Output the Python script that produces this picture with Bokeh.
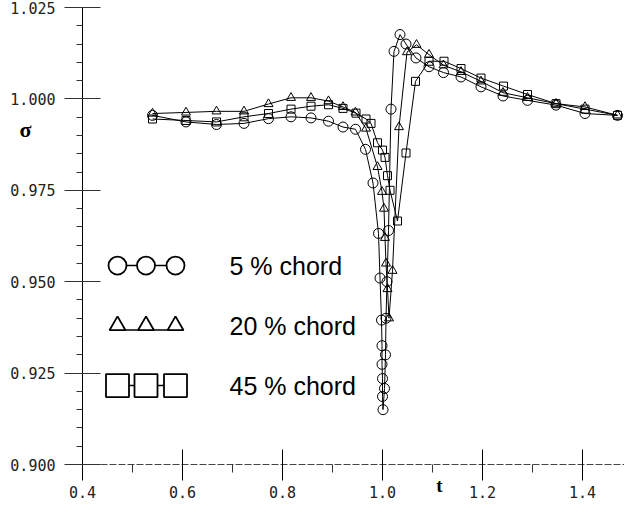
from bokeh.plotting import figure
from bokeh.models import Range1d, FixedTicker, PrintfTickFormatter, Label
from bokeh.embed import file_html
from bokeh.resources import INLINE

# ---- data ----
t_5 = [0.540, 0.607, 0.668, 0.723, 0.772, 0.817, 0.857, 0.892, 0.921, 0.946,
       0.966, 0.981, 0.992, 0.995, 0.998, 0.999, 0.999, 1.000, 1.000, 1.001,
       1.004, 1.006, 1.007, 1.009, 1.012, 1.017, 1.023, 1.035, 1.047, 1.067,
       1.093, 1.122, 1.157, 1.197, 1.241, 1.290, 1.347, 1.405, 1.470]
s_5 = [0.9955, 0.9937, 0.9930, 0.9933, 0.9946, 0.9951, 0.9948, 0.9939, 0.9923, 0.9917,
       0.9862, 0.9770, 0.9632, 0.9510, 0.9395, 0.9325, 0.9274, 0.9235, 0.9186, 0.9150,
       0.9208, 0.9300, 0.9400, 0.9500, 0.9640, 0.9972, 1.0130, 1.0176, 1.0150, 1.0112,
       1.0088, 1.0072, 1.0060, 1.0033, 1.0008, 0.9996, 0.9983, 0.9960, 0.9955]

t_20 = [0.540, 0.607, 0.668, 0.723, 0.772, 0.817, 0.857, 0.892, 0.921, 0.946,
        0.967, 0.990, 0.999, 1.003, 1.005, 1.007, 1.010, 1.013, 1.020, 1.033,
        1.049, 1.068, 1.093, 1.122, 1.157, 1.197, 1.241, 1.290, 1.347, 1.405, 1.470]
s_20 = [0.9960, 0.9963, 0.9966, 0.9966, 0.9986, 1.0003, 1.0003, 0.9994, 0.9978, 0.9963,
        0.9919, 0.9814, 0.9746, 0.9700, 0.9620, 0.9550, 0.9480, 0.9400, 0.9530, 0.9923,
        1.0128, 1.0148, 1.0121, 1.0092, 1.0074, 1.0048, 1.0017, 1.0003, 0.9987, 0.9978, 0.9955]

t_45 = [0.540, 0.607, 0.668, 0.723, 0.772, 0.817, 0.857, 0.892, 0.921, 0.947,
        0.967, 0.977, 0.990, 1.000, 1.005, 1.010, 1.015, 1.030, 1.047, 1.066,
        1.093, 1.123, 1.157, 1.197, 1.242, 1.290, 1.347, 1.405, 1.470]
s_45 = [0.9945, 0.9941, 0.9937, 0.9951, 0.9960, 0.9972, 0.9980, 0.9984, 0.9974, 0.9961,
        0.9945, 0.9933, 0.9880, 0.9860, 0.9840, 0.9790, 0.9750, 0.9666, 0.9852, 1.0048,
        1.0103, 1.0103, 1.0083, 1.0057, 1.0035, 1.0012, 0.9987, 0.9972, 0.9955]

series_labels = ["5 % chord", "20 % chord", "45 % chord"]
x_ticks = [0.4, 0.6, 0.8, 1.0, 1.2, 1.4]
x_minor = [0.5, 0.7, 0.9, 1.1, 1.3]
y_ticks = [0.900, 0.925, 0.950, 0.975, 1.000, 1.025]
y_minor = [round(0.900 + 0.005 * i, 3) for i in range(26)]

# ---- layout: frame fills the canvas, axes drawn at fixed data locations ----
W, H = 624, 500
X0, Y0 = 0.4, 0.900          # where the axes cross
X1, Y1 = 1.484, 1.025        # right end of x axis, top of y axis
left_px, top_px = 82, 7      # canvas position of the axis corner / axis top
px_per_x = 500.0
px_per_y = 3656.0
x_range = Range1d(X0 - left_px / px_per_x, X0 + (W - left_px) / px_per_x)
y_range = Range1d(Y1 - (H - top_px) / px_per_y, Y1 + top_px / px_per_y)

p = figure(width=W, height=H, output_backend="svg", toolbar_location=None,
           x_range=x_range, y_range=y_range,
           min_border_left=0, min_border_right=0, min_border_top=0, min_border_bottom=0)
p.outline_line_color = None
p.xgrid.visible = False
p.ygrid.visible = False
p.background_fill_color = "white"
p.border_fill_color = "white"

tick_font = "DejaVu Sans Mono"

xa = p.xaxis[0]
xa.fixed_location = Y0
xa.bounds = (X0, X1)
xa.ticker = FixedTicker(ticks=x_ticks, minor_ticks=x_minor)
xa.formatter = PrintfTickFormatter(format="%.1f")
xa.major_tick_in = 15
xa.major_tick_out = 16
xa.minor_tick_in = 0
xa.minor_tick_out = 8
xa.major_label_standoff = 5
xa.major_label_text_font = tick_font
xa.major_label_text_font_size = "15px"
xa.major_label_text_color = "#222222"
xa.axis_line_color = "#444444"
xa.axis_line_dash = "7 2"
xa.major_tick_line_color = "black"
xa.minor_tick_line_color = "#333333"

ya = p.yaxis[0]
ya.fixed_location = X0
ya.bounds = (Y0, Y1)
ya.ticker = FixedTicker(ticks=y_ticks, minor_ticks=y_minor)
ya.formatter = PrintfTickFormatter(format="%.3f")
ya.major_tick_in = 18
ya.major_tick_out = 18
ya.minor_tick_in = 0
ya.minor_tick_out = 6
ya.major_label_standoff = 9
ya.major_label_text_font = tick_font
ya.major_label_text_font_size = "15px"
ya.major_label_text_color = "#222222"
ya.axis_line_color = "black"
ya.major_tick_line_color = "#333333"
ya.minor_tick_line_color = "#333333"

# ---- series ----
p.line(t_5, s_5, line_color="black", line_width=1)
p.scatter(t_5, s_5, marker="circle", size=10, fill_color=None, line_color="black", line_width=1)

p.line(t_20, s_20, line_color="black", line_width=1)
p.scatter(t_20, s_20, marker="triangle", size=9, fill_color=None, line_color="black", line_width=1)

p.line(t_45, s_45, line_color="black", line_width=1)
p.scatter(t_45, s_45, marker="square", size=8, fill_color=None, line_color="black", line_width=1)

# ---- custom legend (layout positions) ----
leg_x = [0.470, 0.527, 0.586]
leg_rows = [0.9544, 0.9380, 0.9216]
leg_text_x = 0.694
leg_markers = [("circle", 18), ("triangle", 16), ("square", 23)]
for (mk, sz), yrow, lab in zip(leg_markers, leg_rows, series_labels):
    yline = yrow + (-0.0012 if mk == "triangle" else 0.0)
    p.line(leg_x, [yline] * 3, line_color="black", line_width=1.5)
    p.scatter(leg_x, [yrow] * 3, marker=mk, size=sz, fill_color="white",
              line_color="black", line_width=1.8)
    p.add_layout(Label(x=leg_text_x, y=yrow, text=lab, text_font="Liberation Sans",
                       text_font_size="25px", text_baseline="middle", text_align="left",
                       text_color="black"))

# ---- axis symbols ----
p.add_layout(Label(x=0.286, y=0.9916, text="σ", text_font="Liberation Serif",
                   text_font_style="bold", text_font_size="22px",
                   text_align="center", text_baseline="middle", text_color="black"))
p.add_layout(Label(x=1.114, y=0.8942, text="t", text_font="Liberation Serif",
                   text_font_style="bold", text_font_size="19px",
                   text_align="center", text_baseline="middle", text_color="black"))

open("out.html", "w").write(file_html(p, INLINE))
